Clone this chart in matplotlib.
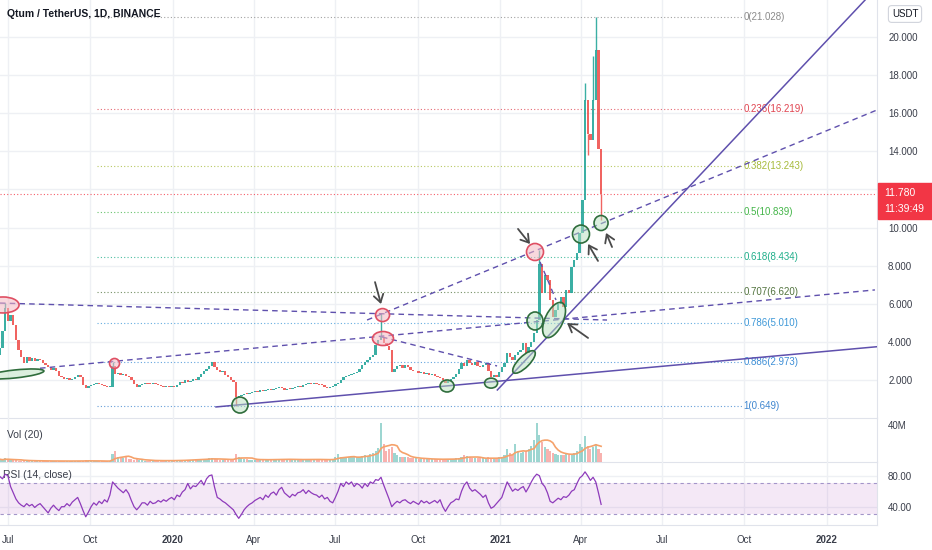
import numpy as np
import pandas as pd
import matplotlib
matplotlib.use('Agg')
import matplotlib.pyplot as plt
from matplotlib.patches import Ellipse, Rectangle
import matplotlib.transforms as mtransforms

plt.rcParams['font.family'] = ['Liberation Sans', 'DejaVu Sans']

# ---------------- data ----------------
START = np.datetime64('2019-06-22')
STEP_DAYS = 3  # one candle per 3 days

closes = [3.7, 4.6, 5.8, 5.1, 5.4, 4.9, 4.1, 3.6, 3.2, 2.9,
          3.2, 3.0, 3.15, 3.0, 3.1, 3.05, 2.9, 2.8, 2.7, 2.55,
          2.65, 2.45, 2.2, 2.15, 2.05, 2.1, 2.0, 2.05, 2.15, 2.25,
          2.15, 1.75, 1.6, 1.7, 1.72, 1.78, 1.85, 1.8, 1.75, 1.7,
          1.62, 1.65, 2.75, 2.3, 2.35, 2.25, 2.3, 2.2, 2.15, 2.0,
          1.8, 1.65, 1.75, 1.8, 1.85, 1.82, 1.78, 1.82, 1.8, 1.72,
          1.68, 1.65, 1.7, 1.62, 1.68, 1.65, 1.75, 1.9, 1.85, 2.0,
          1.9, 1.95, 2.05, 2.0, 2.15, 2.3, 2.5, 2.6, 2.75, 2.95,
          2.7, 2.55, 2.4, 2.45, 2.25, 2.15, 2.0, 1.9, 1.1, 1.15,
          1.2, 1.28, 1.25, 1.3, 1.35, 1.42, 1.38, 1.48, 1.45, 1.5,
          1.55, 1.5, 1.55, 1.6, 1.63, 1.58, 1.5, 1.55, 1.53, 1.6,
          1.62, 1.7, 1.65, 1.72, 1.78, 1.85, 1.8, 1.82, 1.78, 1.75,
          1.72, 1.65, 1.6, 1.63, 1.7, 1.78, 1.83, 2.0, 2.15, 2.2,
          2.25, 2.3, 2.35, 2.4, 2.6, 2.8, 2.95, 3.05, 3.2, 3.3,
          3.85, 4.1, 4.25, 3.95, 3.8, 3.6, 2.4, 2.6, 2.75, 2.8,
          2.65, 2.8, 2.7, 2.55, 2.45, 2.5, 2.35, 2.4, 2.3, 2.35,
          2.25, 2.3, 2.2, 2.15, 2.1, 2.0, 1.85, 1.95, 2.05, 2.17,
          2.3, 2.6, 2.9, 2.75, 3.05, 2.9, 2.8, 2.95, 2.75, 2.7,
          2.8, 2.9, 2.5, 2.15, 2.25, 2.15, 2.4, 2.7, 2.9, 3.4,
          3.2, 3.05, 3.3, 3.45, 3.6, 3.95, 3.4, 3.75, 4.0, 4.45,
          5.15, 8.1, 6.55, 7.5, 7.25, 6.2, 5.3, 5.7, 6.0, 6.35,
          5.85, 6.7, 6.55, 7.95, 8.3, 8.65, 9.7, 11.45, 16.7, 14.9,
          14.6, 16.7, 19.3, 14.1, 11.78]
first_open = 3.3
wick_hi_idx = [2, 42, 142, 201, 218, 221, 222]
wick_hi_val = [6.05, 2.95, 5.5, 8.8, 17.6, 19.0, 21.028]
wick_lo_idx = [88, 219, 224]
wick_lo_val = [0.649, 13.8, 10.4]

volumes_m = [3, 2, 4, 3, 2, 2, 2, 1.5, 1.5, 1.5,
             1.5, 1.2, 1.2, 1.3, 1.2, 1.1, 1.2, 1, 1.1, 1.2,
             1, 1, 1.2, 1, 1, 1.1, 1, 1, 1, 1.1,
             1, 1.5, 1.8, 1.2, 1, 1, 1, 1, 1, 1,
             1, 1.2, 9, 12, 6, 5, 4, 5, 3, 3,
             2.5, 3, 2, 2, 1.5, 1.5, 1.5, 1.5, 1.4, 1.5,
             1.5, 1.5, 1.4, 1.5, 1.5, 1.6, 1.8, 2, 2, 2,
             2.5, 2.2, 2.5, 3, 2.8, 3.5, 3, 3.5, 4, 4,
             3, 3, 2.5, 2.5, 2.5, 3, 3, 3, 9, 6,
             4, 3, 3, 2.5, 2.5, 2.5, 2.5, 2.5, 2.5, 2.5,
             2.5, 2.5, 3, 3, 3, 3, 3, 2.8, 2.5, 2.5,
             2.5, 2.5, 2.8, 3, 3, 3, 2.8, 2.5, 2.5, 2.5,
             2.5, 2.5, 2.5, 3, 3, 5, 9, 6, 5, 5,
             5, 5, 6, 5, 6, 7, 8, 7, 9, 10,
             12, 15, 43, 20, 12, 14, 16, 10, 8, 6,
             6, 5, 5, 4, 4, 4, 3.5, 3.5, 3.5, 3,
             3, 3, 3, 3, 3, 3, 3.5, 3, 3, 3.5,
             4, 4, 6, 8, 7, 5, 4, 4, 4, 4,
             4, 4, 5, 4, 4, 4, 5, 6, 8, 14,
             10, 8, 20, 12, 10, 11, 12, 14, 18, 24,
             43, 30, 22, 16, 14, 12, 10, 9, 8, 8,
             8, 9, 8, 9, 10, 12, 20, 16, 28, 18,
             14, 16, 20, 14, 10]

rsi_values = [79, 76, 82, 80, 66, 58, 50, 45, 42, 40,
              44, 41, 43, 39, 42, 44, 40, 36, 32, 38,
              42, 38, 35, 40, 40, 44, 41, 46, 49, 52,
              44, 35, 27, 33, 40, 45, 42, 47, 44, 49,
              46, 55, 72, 68, 64, 61, 58, 62, 57, 48,
              40, 36, 40, 45, 45, 42, 47, 44, 45, 48,
              46, 49, 47, 50, 52, 49, 55, 53, 59, 62,
              70, 63, 67, 66, 70, 74, 68, 76, 80, 81,
              65, 52, 50, 47, 45, 42, 39, 36, 30, 25,
              30, 36, 40, 43, 45, 48, 50, 52, 49, 55,
              52, 57, 59, 55, 62, 65, 58, 55, 52, 56,
              54, 58, 59, 62, 57, 61, 58, 56, 55, 52,
              55, 50, 52, 47, 45, 52, 60, 70, 66, 72,
              69, 72, 66, 70, 68, 64, 70, 66, 72, 70,
              75, 74, 78, 68, 59, 50, 40, 44, 47, 45,
              48, 49, 46, 44, 47, 45, 43, 48, 45, 47,
              44, 46, 48, 45, 49, 40, 34, 40, 45, 47,
              50, 49, 60, 68, 72, 64, 60, 62, 59, 56,
              52, 55, 45, 38, 40, 44, 48, 52, 62, 72,
              66, 60, 63, 61, 64, 66, 59, 65, 72, 78,
              82, 80, 70, 66, 58, 47, 45, 48, 51, 49,
              53, 52, 55, 60, 62, 70, 77, 80, 85, 80,
              74, 78, 72, 58, 43]

fib_ratios = ['0', '0.236', '0.382', '0.5', '0.618', '0.707', '0.786', '0.886', '1']
fib_prices = [21.028, 16.219, 13.243, 10.839, 8.434, 6.620, 5.010, 2.973, 0.649]
fib_colors = ['#8a8a8a', '#e0434f', '#a6ba3a', '#43b548', '#1fae8a', '#53743f',
              '#3d98d8', '#3d8ed6', '#3f86cf']
fib_start_day, fib_end_day = 108.6, 829.5

last_price = 11.780
countdown = '11:39:49'

# drawings: (day offset from START, price)
solid_lines = [((241.6, 0.59), (980.3, 3.75)),
               ((556.0, 1.48), (967.0, 21.94))]
dashed_lines = [((44.9, 2.62), (978.0, 6.73)),
                ((0.2, 6.04), (678.6, 5.15)),
                ((410.4, 5.15), (980.3, 16.17)),
                ((427.1, 4.26), (555.7, 2.74)),
                ((603.7, 8.20), (621.6, 6.20))]
# ellipses: day, price, width px, height px, angle
red_marks = [(3.6, 5.94, 32, 16, 0), (128.2, 2.87, 10, 10, 0), (427.7, 5.41, 14, 13, 0),
             (428.2, 4.18, 21, 14, 0), (598.1, 8.72, 17, 17, 0)]
green_marks = [(17.0, 2.32, 58, 8, 6), (268.4, 0.69, 16, 16, 0), (499.8, 1.69, 14, 12, 0),
               (549.0, 1.84, 13, 10, 0), (585.8, 2.95, 30, 11, 45), (598.1, 5.10, 16, 18, 0),
               (619.4, 5.15, 38, 18, 65), (649.5, 9.66, 17, 18, 0), (671.9, 10.24, 14, 15, 0)]
arrows = [((419.3, 7.14), (426.0, 5.99)), ((579.1, 9.93), (592.5, 9.14)),
          ((657.4, 4.21), (633.9, 4.99)), ((668.5, 8.25), (657.4, 9.14)),
          ((684.2, 8.98), (677.5, 9.72))]

tick_dates = ['2019-07-01', '2019-10-01', '2020-01-01', '2020-04-01', '2020-07-01',
              '2020-10-01', '2021-01-01', '2021-04-01', '2021-07-01', '2021-10-01', '2022-01-01']
tick_labels = ['Jul', 'Oct', '2020', 'Apr', 'Jul', 'Oct', '2021', 'Apr', 'Jul', 'Oct', '2022']
price_ticks = [2, 4, 6, 8, 10, 12, 14, 16, 18, 20]

# ---------------- figure ----------------
W, H, DPI = 932, 550, 100
fig = plt.figure(figsize=(W / DPI, H / DPI), dpi=DPI)
fig.patch.set_facecolor('white')

def fx(px):
    return px / W

def fy(py):
    return 1 - py / H

ax = fig.add_axes([0, fy(418), fx(877), 418 / H])
axv = fig.add_axes([0, fy(462), fx(877), 44 / H], sharex=ax)
axr = fig.add_axes([0, fy(525), fx(877), 63 / H], sharex=ax)

grid_c = '#eef0f4'
sep_c = '#e0e3eb'
text_c = '#3a3e4a'

n = len(closes)
days = np.arange(n) * STEP_DAYS
opens = [first_open] + closes[:-1]
up = [c >= o for o, c in zip(opens, closes)]
UP_C, DN_C = '#26a69a', '#ef5350'
cols = [UP_C if u else DN_C for u in up]

bottoms = [min(o, c) for o, c in zip(opens, closes)]
heights = [max(abs(c - o), 0.05) for o, c in zip(opens, closes)]
ax.bar(days, heights, bottom=bottoms, width=2.6, color=cols, alpha=0.9, zorder=3, linewidth=0)
for i, hv in zip(wick_hi_idx, wick_hi_val):
    ax.vlines(days[i], max(opens[i], closes[i]), hv, color=cols[i], lw=1.0, alpha=0.9, zorder=3)
for i, lv in zip(wick_lo_idx, wick_lo_val):
    ax.vlines(days[i], lv, min(opens[i], closes[i]), color=cols[i], lw=1.0, alpha=0.9, zorder=3)

XMIN, XMAX = 0.2, 980.3
ax.set_xlim(XMIN, XMAX)
ax.set_ylim(0.01, 21.94)

tick_days = [(np.datetime64(d) - START).astype(int) for d in tick_dates]

for a in (ax, axv, axr):
    for d in tick_days:
        a.axvline(d, color=grid_c, lw=1.0, zorder=0)
for p in price_ticks:
    ax.axhline(p, color=grid_c, lw=1.0, zorder=0)

# fib levels
for r, p, c in zip(fib_ratios, fib_prices, fib_colors):
    ax.plot([fib_start_day, fib_end_day], [p, p], color=c, lw=0.8, ls=(0, (1, 2)), alpha=0.8, zorder=2)
    ax.text(fib_end_day + 1.5, p, f'{r}({p:.3f})', color=c, fontsize=7, va='center', ha='left', zorder=4)

# current price line
ax.axhline(last_price, color='#f23645', lw=0.8, ls=(0, (1, 2)), alpha=0.8, zorder=2)

# trend lines
LINE_C = '#5f50ad'
for (a0, b0) in solid_lines:
    ax.plot([a0[0], b0[0]], [a0[1], b0[1]], color=LINE_C, lw=1.1, zorder=5)
for (a0, b0) in dashed_lines:
    ax.plot([a0[0], b0[0]], [a0[1], b0[1]], color=LINE_C, lw=1.0, ls=(0, (4, 3)), zorder=5)

def add_ellipse(d, p, wpx, hpx, ang, fc, ec):
    tr = fig.dpi_scale_trans + mtransforms.ScaledTranslation(d, p, ax.transData)
    e = Ellipse((0, 0), wpx / DPI, hpx / DPI, angle=ang, transform=tr,
                facecolor=fc, edgecolor=ec, lw=1.2, zorder=6)
    ax.add_patch(e)

for d, p, w, h, a in red_marks:
    add_ellipse(d, p, w, h, a, (0.96, 0.72, 0.76, 0.55), '#df4f63')
for d, p, w, h, a in green_marks:
    add_ellipse(d, p, w, h, a, (0.72, 0.88, 0.75, 0.5), '#2f6d3c')

for tail, tip in arrows:
    ax.annotate('', xy=tip, xytext=tail,
                arrowprops=dict(arrowstyle='->,head_length=0.55,head_width=0.35',
                                color='#4a4a4a', lw=1.3, shrinkA=0, shrinkB=0), zorder=7)

# axis styling
ax.yaxis.tick_right()
ax.set_yticks(price_ticks)
ax.set_yticklabels([f'{p:.3f}' for p in price_ticks])
for a in (ax, axv, axr):
    a.tick_params(axis='y', length=0, pad=8, labelsize=7, labelcolor=text_c)
    a.tick_params(axis='x', length=0)
    for s in ('top', 'left'):
        a.spines[s].set_visible(False)
    a.spines['right'].set_color(sep_c)
    a.spines['bottom'].set_color(sep_c)
    a.set_facecolor('none')
plt.setp(ax.get_xticklabels(), visible=False)
plt.setp(axv.get_xticklabels(), visible=False)

# volume pane
vol = np.array(volumes_m) * 1e6
vcols = [(0.15, 0.65, 0.6, 0.45) if u else (0.94, 0.33, 0.31, 0.45) for u in up]
axv.bar(days, vol, width=2.4, color=vcols, linewidth=0, zorder=3)
vol_ma = pd.Series(vol).rolling(7, min_periods=1).mean()
axv.plot(days, vol_ma, color='#f5a26b', lw=1.2, zorder=4)
axv.set_ylim(0, 48e6)
axv.yaxis.tick_right()
axv.set_yticks([40e6])
axv.set_yticklabels(['40M'])
axv.text(7 / 0.8948, 0.62, 'Vol (20)', transform=mtransforms.blended_transform_factory(axv.transData, axv.transAxes),
         fontsize=7.5, color=text_c, va='center', ha='left')

# RSI pane
axr.set_ylim(16.4, 97.7)
axr.axhspan(30, 70, color='#9c27b0', alpha=0.1, lw=0, zorder=1)
for lvl in (70, 30):
    axr.axhline(lvl, color='#a395c9', lw=0.8, ls=(0, (3, 3)), zorder=2)
for lvl in (40, 80):
    axr.axhline(lvl, color=grid_c, lw=1.0, zorder=0)
axr.plot(days, rsi_values, color='#8e3bbb', lw=0.9, zorder=4)
axr.yaxis.tick_right()
axr.set_yticks([40, 80])
axr.set_yticklabels(['40.00', '80.00'])
axr.text(3 / 0.8948, 0.80, 'RSI (14, close)', transform=mtransforms.blended_transform_factory(axr.transData, axr.transAxes),
         fontsize=7.5, color=text_c, va='center', ha='left')

axr.set_xticks(tick_days)
axr.set_xticklabels(tick_labels)
axr.tick_params(axis='x', labelsize=7, labelcolor=text_c, pad=7)
for lab in axr.get_xticklabels():
    if lab.get_text().isdigit():
        lab.set_fontweight('bold')
axr.set_xlim(XMIN, XMAX)

# title
fig.text(fx(7), fy(14), 'Qtum / TetherUS, 1D, BINANCE', fontsize=7.5, fontweight='bold',
         color='#131722', va='center', ha='left')
# USDT box
fig.text(fx(905), fy(14), 'USDT', fontsize=7, color='#131722', va='center', ha='center',
         bbox=dict(boxstyle='round,pad=0.35', fc='white', ec='#d1d4dc', lw=0.8))
# last price label (covers the 12.000 tick label as in the reference)
fig.patches.append(Rectangle((fx(878), fy(219)), 54 / W, 36 / H, transform=fig.transFigure,
                             color='#f23645', zorder=10))
fig.text(fx(884), fy(193), f'{last_price:.3f}', fontsize=7.5, color='white', va='center', ha='left', zorder=11)
fig.text(fx(884), fy(209), countdown, fontsize=7.5, color='white', va='center', ha='left', zorder=11)

fig.savefig('out.png', dpi=DPI, facecolor='white')
